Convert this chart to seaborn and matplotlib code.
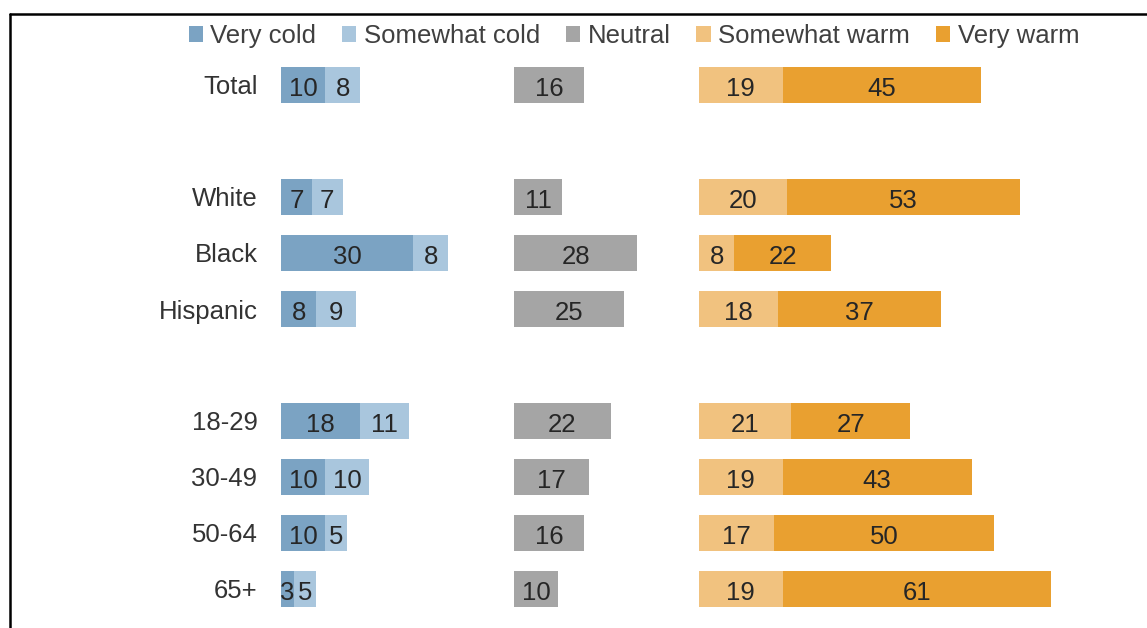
import matplotlib
matplotlib.use("Agg")
import matplotlib.pyplot as plt
from matplotlib.patches import Patch
from matplotlib.lines import Line2D
import seaborn as sns
import pandas as pd

# Survey results: share of each group by feeling (percent)
groups = ["Total", "White", "Black", "Hispanic", "18-29", "30-49", "50-64", "65+"]
very_cold = [10, 7, 30, 8, 18, 10, 10, 3]
somewhat_cold = [8, 7, 8, 9, 11, 10, 5, 5]
neutral = [16, 11, 28, 25, 22, 17, 16, 10]
somewhat_warm = [19, 20, 8, 18, 21, 19, 17, 19]
very_warm = [45, 53, 22, 37, 27, 43, 50, 61]

# Row order, with empty spacer rows between the group blocks
row_order = ["Total", " ", "White", "Black", "Hispanic", "  ", "18-29", "30-49", "50-64", "65+"]

legend_labels = ["Very cold", "Somewhat cold", "Neutral", "Somewhat warm", "Very warm"]
colors = ["#7ba3c3", "#a9c6dd", "#a5a5a5", "#f1c27f", "#e9a030"]

df = pd.DataFrame({
    "group": groups,
    "very_cold": very_cold,
    "somewhat_cold": somewhat_cold,
    "neutral": neutral,
    "somewhat_warm": somewhat_warm,
    "very_warm": very_warm,
})
df["cold_total"] = df["very_cold"] + df["somewhat_cold"]
df["warm_total"] = df["somewhat_warm"] + df["very_warm"]

sns.set_style("white")
plt.rcParams["font.family"] = ["Liberation Sans", "DejaVu Sans"]

W, H = 1147, 628
fig = plt.figure(figsize=(W / 100, H / 100), dpi=100)

PX_PER_UNIT = 4.4
TOP, BOTTOM = 57, 617


def make_axes(left_px, xmax):
    width_px = xmax * PX_PER_UNIT
    return fig.add_axes([left_px / W, 1 - BOTTOM / H, width_px / W, (BOTTOM - TOP) / H])


ax_cold = make_axes(281, 45)
ax_neu = make_axes(514, 35)
ax_warm = make_axes(699, 100)

BAR_W = 0.64
TXT = "#262626"
FS = 18.5


def bars(ax, col, color):
    sns.barplot(data=df, x=col, y="group", order=row_order, orient="h",
                color=color, saturation=1, width=BAR_W, errorbar=None, ax=ax,
                linewidth=0, edgecolor="none")


# Cold side: full stack in light blue, very cold overlaid from zero
bars(ax_cold, "cold_total", colors[1])
bars(ax_cold, "very_cold", colors[0])
# Neutral
bars(ax_neu, "neutral", colors[2])
# Warm side: full stack in dark orange, somewhat warm overlaid from zero
bars(ax_warm, "warm_total", colors[4])
bars(ax_warm, "somewhat_warm", colors[3])


def label(ax, x, y, value):
    ax.text(x, y, f"{value}", ha="center", va="center_baseline",
            fontsize=FS, color=TXT)


ypos = {g: row_order.index(g) for g in groups}
for _, r in df.iterrows():
    y = ypos[r["group"]] + 0.03
    label(ax_cold, r["very_cold"] / 2, y, r["very_cold"])
    label(ax_cold, r["very_cold"] + r["somewhat_cold"] / 2, y, r["somewhat_cold"])
    label(ax_neu, r["neutral"] / 2, y, r["neutral"])
    label(ax_warm, r["somewhat_warm"] / 2, y, r["somewhat_warm"])
    label(ax_warm, r["somewhat_warm"] + r["very_warm"] / 2, y, r["very_warm"])

for ax, xmax in [(ax_cold, 45), (ax_neu, 35), (ax_warm, 100)]:
    ax.set_xlim(0, xmax)
    ax.set_xlabel("")
    ax.set_ylabel("")
    ax.set_xticks([])
    sns.despine(ax=ax, left=True, bottom=True)
    ax.patch.set_alpha(0)

ax_cold.tick_params(axis="y", length=0, pad=17, labelsize=FS, labelcolor="#333333")
for ax in (ax_neu, ax_warm):
    ax.set_yticks([])

handles = [Patch(facecolor=c, edgecolor="none") for c in colors]
fig.legend(handles, legend_labels, loc="center", bbox_to_anchor=(634 / W, 1 - 36 / H),
           ncol=5, frameon=False, fontsize=FS, handlelength=0.55, handleheight=0.55,
           handletextpad=0.3, columnspacing=1.0, labelcolor="#404040")

# Frame lines along the top and left edge
fig.add_artist(Line2D([9.5 / W, 1], [1 - 13.5 / H, 1 - 13.5 / H], color="black",
                      linewidth=1.8, transform=fig.transFigure))
fig.add_artist(Line2D([9.5 / W, 9.5 / W], [0, 1 - 13.5 / H], color="black",
                      linewidth=1.8, transform=fig.transFigure))

fig.savefig("out.png", dpi=100)
